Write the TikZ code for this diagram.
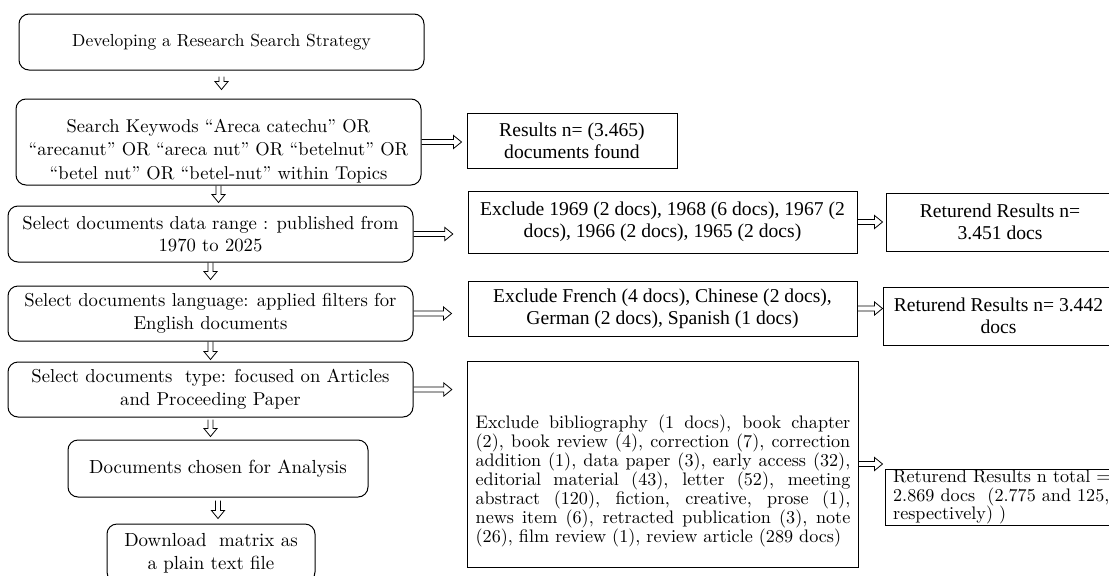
\documentclass[tikz,border=0pt]{standalone}
\usepackage{fontspec}
\setmainfont{lmroman10-regular}[Extension=.otf, Ligatures=TeX]
\newfontfamily\narrowfont{Liberation Serif}
\usetikzlibrary{calc}

\tikzset{every picture/.style={line width=0.75pt}}
\tikzset{
  sz/.style 2 args={minimum width=#1*0.75pt, minimum height=#2*0.75pt},
  stepbox/.style={draw, rounded corners=7.5pt, inner sep=0pt, align=center,
    font=\fontsize{14}{17}\selectfont},
  resbox/.style={draw, inner sep=0pt, align=center,
    font=\narrowfont\fontsize{14.7}{16.5}\selectfont},
  listfont/.style={font=\fontsize{13.6}{14.2}\selectfont},
  hollow/.style 2 args={draw, line width=0.6pt, to path={
    ($(\tikztostart)!#1!(\tikztotarget)!1.9pt!90:(\tikztotarget)$)
    -- ($(\tikztotarget)!#2+6pt!(\tikztostart)!1.9pt!270:(\tikztostart)$)
    -- ($(\tikztotarget)!#2+6pt!(\tikztostart)!4.9pt!270:(\tikztostart)$)
    -- ($(\tikztotarget)!#2!(\tikztostart)$)
    -- ($(\tikztotarget)!#2+6pt!(\tikztostart)!4.9pt!90:(\tikztostart)$)
    -- ($(\tikztotarget)!#2+6pt!(\tikztostart)!1.9pt!90:(\tikztostart)$)
    -- ($(\tikztostart)!#1!(\tikztotarget)!1.9pt!270:(\tikztotarget)$)}}
}

\begin{document}
\begin{tikzpicture}[x=0.75pt,y=0.75pt,yscale=-1,xscale=1]
  \useasboundingbox (0,0) rectangle (1109,575);
  \clip (0,0) rectangle (1109,575);

  %Rounded Rect
  \node (b1) [stepbox, sz={405}{56}, font=\fontsize{13.1}{17}\selectfont] at (221.5,42) {Developing a Research Search Strategy};
  %Rounded Rect
  \node (b2) [stepbox, sz={405}{86}] at (218.5,142) {};
  \node (b2t) [align=center, font=\fontsize{13.9}{17.5}\selectfont] at (218.5,151) {Search Keywods ``Areca catechu'' OR\\ ``arecanut'' OR ``areca nut'' OR ``betelnut'' OR\\ ``betel nut'' OR ``betel-nut'' within Topics};
  %Rounded Rect
  \node (b3) [stepbox, sz={405}{56}] at (210.5,234) {Select documents data range : published from\\ 1970 to 2025};
  %Rounded Rect
  \node (b4) [stepbox, sz={405}{55}] at (210.5,313.5) {Select documents language: applied filters for\\ English documents};
  %Rounded Rect
  \node (b5) [stepbox, sz={405}{55}] at (210.5,389.5) {Select documents~ type: focused on Articles\\ and Proceeding Paper};
  %Rounded Rect
  \node (b6) [stepbox, sz={300}{57}, font=\fontsize{14.2}{17}\selectfont] at (218,468.5) {Documents chosen for Analysis};
  %Rounded Rect
  \node (b7) [stepbox, sz={208}{58}, font=\fontsize{14.2}{17}\selectfont] at (211,553) {Download~ matrix as\\ a plain text file};

  %Shape: Rectangle
  \node (res) [resbox, sz={210}{55}] at (572,140.5) {Results n= (3.465)\\ documents found};
  %Shape: Rectangle
  \node (ex1) [resbox, sz={389}{62}] at (662.5,222) {Exclude 1969 (2 docs), 1968 (6 docs), 1967 (2\\ docs), 1966 (2 docs), 1965 (2 docs)};
  %Shape: Rectangle
  \node (ret1) [resbox, sz={228}{58}] at (1000,222) {Returend Results n=\\ 3.451 docs};
  %Shape: Rectangle
  \node (ex2) [resbox, sz={389}{55}] at (662.5,308.5) {Exclude French (4 docs), Chinese (2 docs),\\ German (2 docs), Spanish (1 docs)};
  %Shape: Rectangle
  \node (ret2) [resbox, sz={231}{58}] at (998.5,316) {Returend Results n= 3.442\\ docs};
  %Shape: Rectangle
  \node (ex3) [draw, inner sep=0pt, sz={391}{206}] at (662.5,464) {};
  \node (ex3t) [listfont, inner sep=0pt, text width=281pt, align=justify] at (663,481) {Exclude bibliography (1 docs), book chapter\linebreak (2), book review (4), correction (7), correction\linebreak addition (1), data paper (3), early access (32),\linebreak editorial material (43), letter (52), meeting\linebreak abstract (120), fiction, creative, prose (1),\linebreak news item (6), retracted publication (3), note\linebreak (26), film review (1), review article (289 docs)};
  %Shape: Rectangle
  \node (ret3) [draw, listfont, inner xsep=6pt, inner ysep=0pt, text width=164pt, align=left, sz={235}{56}] at (1002.5,497) {Returend Results n total =\\ 2.869 docs~ (2.775 and 125,\\ respectively) )};

  %Down Arrows
  \draw [hollow={4.5pt}{6.75pt}] (b1.south) to (b1.south |- b2.north);
  \draw [hollow={0pt}{2.25pt}] (b2.south) to (b2.south |- b3.north);
  \draw [hollow={0pt}{4.5pt}] (b3.south) to (b3.south |- b4.north);
  \draw [hollow={0pt}{1.5pt}] (b4.south) to (b4.south |- b5.north);
  \draw [hollow={1.5pt}{2.25pt}] (b5.south) to (b5.south |- b6.north);
  \draw [hollow={2.25pt}{3.75pt}] (b6.south) to (b6.south |- b7.north);

  %Right Arrows
  \draw [hollow={0pt}{3.75pt}] (b2.east) to (b2.east -| res.west);
  \draw [hollow={0pt}{11pt}] (b3.east) to (b3.east -| ex1.west);
  \draw [hollow={0pt}{12pt}] (b4.east) to (b4.east -| ex2.west);
  \draw [hollow={0pt}{11pt}] (b5.east) to (b5.east -| ex3.west);
  \draw [hollow={0pt}{2.25pt}] (ex1.east) to (ex1.east -| ret1.west);
  \draw [hollow={0pt}{0pt}] (ex2.east) to (ex2.east -| ret2.west);
  \draw [hollow={0pt}{1.5pt}] (ex3.east) to (ex3.east -| ret3.west);
\end{tikzpicture}
\end{document}
